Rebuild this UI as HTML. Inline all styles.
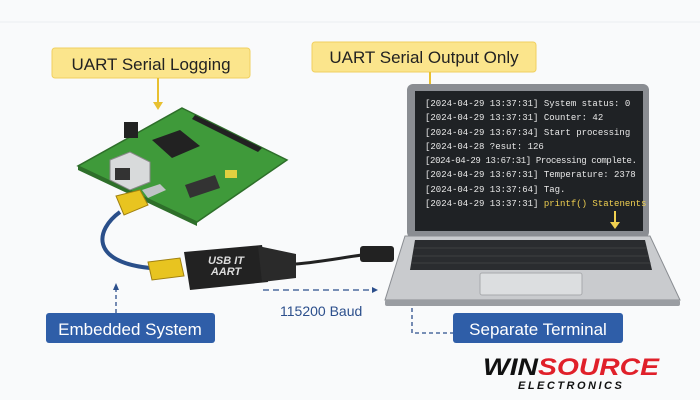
<!DOCTYPE html>
<html><head><style>
body{margin:0;background:#fff;}
svg{display:block;font-family:"Liberation Sans",sans-serif;}
</style></head><body>
<svg width="700" height="400" viewBox="0 0 700 400">
<rect width="700" height="400" fill="#f9fafb"/>
<line x1="0" y1="22" x2="700" y2="22" stroke="#eceef0"/>
<rect x="52" y="48" width="198" height="30" rx="3" fill="#fbe58c" stroke="#f0d060"/>
<text x="151" y="70" font-size="17" text-anchor="middle" fill="#222">UART Serial Logging</text>
<line x1="158" y1="78" x2="158" y2="104" stroke="#e8c030" stroke-width="2"/>
<polygon points="153,102 163,102 158,110" fill="#e8c030"/>
<rect x="312" y="42" width="224" height="30" rx="3" fill="#fbe58c" stroke="#f0d060"/>
<text x="424" y="63" font-size="17" text-anchor="middle" fill="#222">UART Serial Output Only</text>
<polyline points="430,72 430,92 410,92" fill="none" stroke="#e8c030" stroke-width="2"/>
<rect x="407" y="84" width="242" height="154" rx="6" fill="#8a8d92"/>
<rect x="415" y="91" width="228" height="140" fill="#1f2225"/>
<g font-family="Liberation Mono,monospace" font-size="9" fill="#e8e8e8">
<text x="425" y="106">[2024-04-29 13:37:31] System status: 0</text>
<text x="425" y="120">[2024-04-29 13:37:31] Counter: 42</text>
<text x="425" y="135">[2024-04-29 13:67:34] Start processing</text>
<text x="425" y="149">[2024-04-28 ?esut:   126</text>
<text x="425" y="163" textLength="212">[2024-04-29 13:67:31] Processing complete.</text>
<text x="425" y="177">[2024-04-29 13:67:31] Temperature: 2378</text>
<text x="425" y="192">[2024-04-29 13:37:64] Tag.</text>
<text x="425" y="206">[2024-04-29 13:37:31] <tspan fill="#f0d050">printf() Statenents</tspan></text>
</g>
<line x1="615" y1="211" x2="615" y2="224" stroke="#f0d050" stroke-width="2"/>
<polygon points="610,222 620,222 615,229" fill="#f0d050"/>
<polygon points="405,236 650,236 680,300 385,300" fill="#c9cbce" stroke="#8a8d92"/>
<rect x="385" y="300" width="295" height="6" rx="2" fill="#9a9da2"/>
<polygon points="415,240 645,240 652,270 410,270" fill="#2a2c2f"/>
<g stroke="#555" stroke-width="0.6">
<line x1="414" y1="248" x2="647" y2="248"/><line x1="412" y1="256" x2="649" y2="256"/><line x1="411" y1="263" x2="651" y2="263"/>
</g>
<rect x="480" y="273" width="102" height="22" rx="2" fill="#dcdee0" stroke="#a8aaad"/>
<polyline points="412,308 412,333 453,333" fill="none" stroke="#2c4f8c" stroke-width="1.3" stroke-dasharray="4,3"/>
<rect x="453" y="313" width="170" height="30" rx="3" fill="#2f5ea8"/>
<text x="538" y="335" font-size="17" text-anchor="middle" fill="#fff">Separate Terminal</text>
<polygon points="182,108 287,160 197,222 78,166" fill="#3f9a3a" stroke="#2e6f2a" stroke-width="1.5"/>
<polygon points="78,166 197,222 197,226 78,170" fill="#2e6f2a"/>
<polygon points="152,140 180,130 200,146 172,158" fill="#222"/>
<polygon points="195,115 262,148 258,152 192,119" fill="#222"/>
<rect x="124" y="122" width="14" height="16" fill="#222"/>
<polygon points="110,160 130,152 150,162 150,182 130,190 110,180" fill="#d8dadb" stroke="#888"/>
<rect x="115" y="168" width="15" height="12" fill="#333"/>
<polygon points="142,190 160,184 166,190 148,198" fill="#c0c4c6"/>
<polygon points="185,185 215,175 220,188 190,198" fill="#333"/>
<rect x="225" y="170" width="12" height="8" fill="#e0d040"/>
<path d="M120,212 C95,230 90,262 150,268" fill="none" stroke="#2a4f8a" stroke-width="4"/>
<polygon points="116,196 140,190 148,205 124,215" fill="#e8c420" stroke="#a08010"/>
<polygon points="148,262 180,258 184,276 152,280" fill="#e8c420" stroke="#a08010"/>
<polygon points="184,252 262,245 268,282 190,290" fill="#222"/>
<polygon points="258,246 296,254 296,278 262,282" fill="#2a2a2a"/>
<text x="226" y="264" font-size="11" font-style="italic" font-weight="bold" fill="#ddd" text-anchor="middle">USB IT</text>
<text x="226" y="275" font-size="11" font-style="italic" font-weight="bold" fill="#ddd" text-anchor="middle">AART</text>
<path d="M296,264 C320,262 340,258 362,255" fill="none" stroke="#222" stroke-width="3"/>
<rect x="360" y="246" width="34" height="16" rx="3" fill="#222"/>
<line x1="263" y1="290" x2="372" y2="290" stroke="#2c4f8c" stroke-width="1.3" stroke-dasharray="6,4"/>
<polygon points="372,287 378,290 372,293" fill="#2c4f8c"/>
<text x="280" y="316" font-size="14" fill="#2c4f8c">115200 Baud</text>
<line x1="116" y1="313" x2="116" y2="288" stroke="#2c4f8c" stroke-width="1.3" stroke-dasharray="4,3"/>
<polygon points="113,290 116,283 119,290" fill="#2c4f8c"/>
<rect x="46" y="313" width="169" height="30" rx="3" fill="#2f5ea8"/>
<text x="130" y="335" font-size="17" text-anchor="middle" fill="#fff">Embedded System</text>
<text x="483" y="375" font-size="24" font-weight="bold" font-style="italic" fill="#111" textLength="176" lengthAdjust="spacingAndGlyphs">WIN<tspan fill="#e0202a">SOURCE</tspan></text>
<text x="518" y="389" font-size="11" font-weight="bold" font-style="italic" fill="#111" letter-spacing="2.5">ELECTRONICS</text>
</svg>
</body></html>
